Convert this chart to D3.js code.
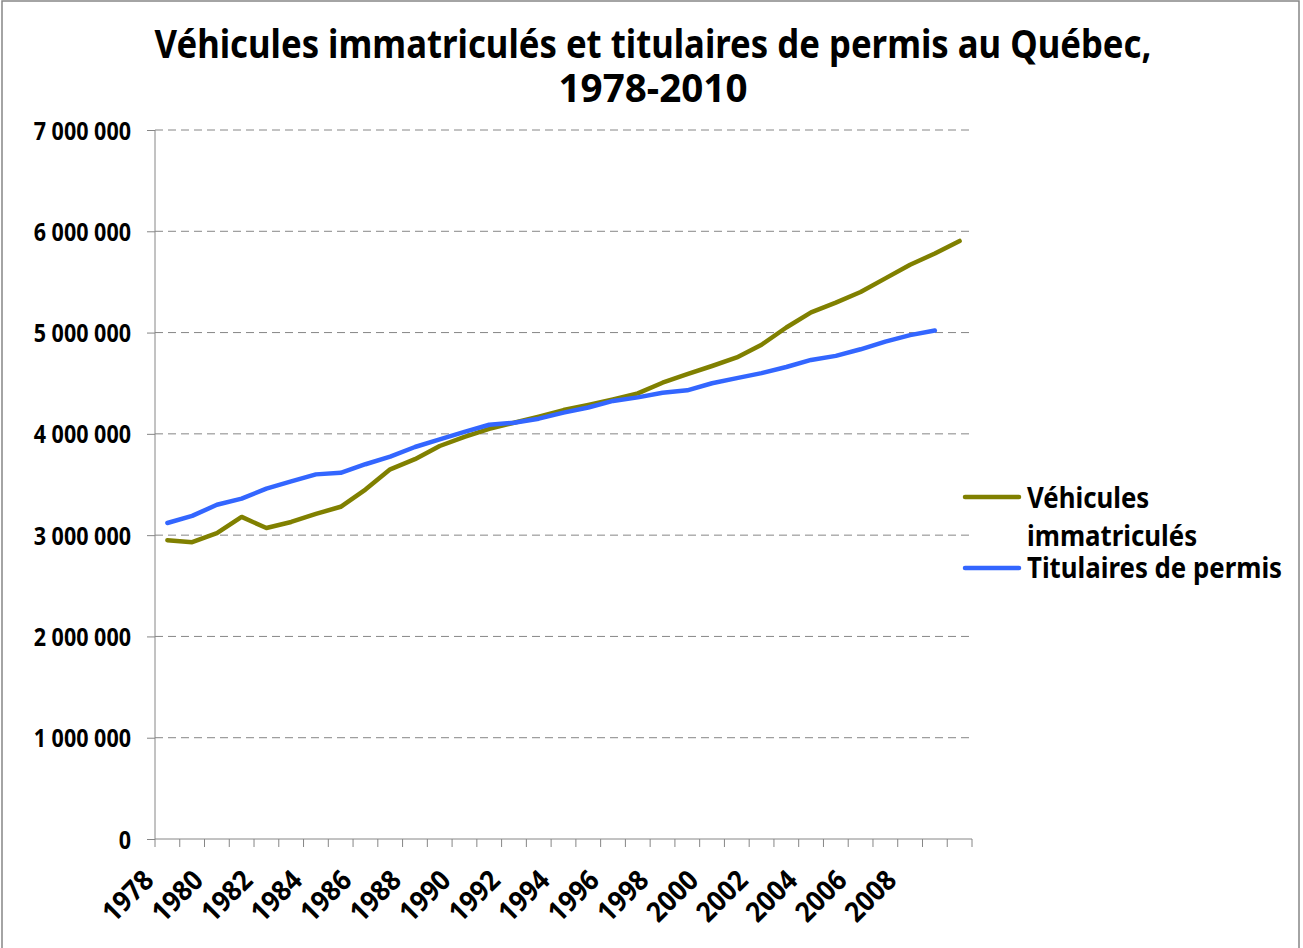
<!DOCTYPE html>
<html>
<head>
<meta charset="utf-8">
<script src="https://cdn.jsdelivr.net/npm/d3@7"></script>
<style>
  body { margin: 0; background: #fff; }
  text { font-family: "Noto Sans", sans-serif; font-weight: bold; fill: #000; }
</style>
</head>
<body>
<div id="vis"></div>
<script>
// data
const years = [1978, 1979, 1980, 1981, 1982, 1983, 1984, 1985, 1986, 1987, 1988,
    1989, 1990, 1991, 1992, 1993, 1994, 1995, 1996, 1997, 1998, 1999, 2000,
    2001, 2002, 2003, 2004, 2005, 2006, 2007, 2008, 2009, 2010];

const vehicules = [2950000, 2930000, 3020000, 3180000, 3070000, 3130000, 3210000,
    3280000, 3450000, 3650000, 3750000, 3880000, 3970000, 4050000, 4110000,
    4170000, 4235000, 4285000, 4340000, 4400000, 4505000, 4590000, 4670000,
    4755000, 4880000, 5050000, 5200000, 5295000, 5400000, 5535000, 5670000,
    5780000, 5905000];

const titulaires = [3120000, 3190000, 3300000, 3360000, 3460000, 3530000, 3600000,
    3615000, 3700000, 3775000, 3870000, 3945000, 4020000, 4090000, 4110000,
    4150000, 4210000, 4260000, 4325000, 4360000, 4405000, 4430000, 4500000,
    4550000, 4600000, 4660000, 4730000, 4770000, 4835000, 4910000, 4975000,
    5020000];

const yTicks = [0, 1000000, 2000000, 3000000, 4000000, 5000000, 6000000, 7000000];
const xLabels = [1978, 1980, 1982, 1984, 1986, 1988, 1990, 1992, 1994, 1996,
    1998, 2000, 2002, 2004, 2006, 2008];

const titleLines = ['Véhicules immatriculés et titulaires de permis au Québec,', '1978-2010'];
const seriesNames = [['Véhicules', 'immatriculés'], ['Titulaires de permis']];

// layout
const W = 1303, H = 948;
const plot = { left: 155, right: 972, top: 130, bottom: 839 };
const axisColor = '#868686';
const colors = ['#808000', '#3366ff'];

const svg = d3.select('#vis')
    .append('svg')
    .attr('width', W)
    .attr('height', H);

// chart border
svg.append('rect')
    .attr('x', 2).attr('y', 1)
    .attr('width', 1297).attr('height', H + 10)
    .attr('fill', 'none')
    .attr('stroke', axisColor)
    .attr('stroke-width', 1.5);

// squeeze text a little, the original font is narrower
function squeeze(sel, k) {
    sel.each(function (d, i) {
        const f = Array.isArray(k) ? k[i] : k;
        const len = this.getComputedTextLength();
        d3.select(this)
            .attr('textLength', len * f)
            .attr('lengthAdjust', 'spacingAndGlyphs');
    });
}

// scales
const xScale = d3.scaleBand()
    .domain(years)
    .range([plot.left, plot.right])
    .padding(0);

const yScale = d3.scaleLinear()
    .domain([0, 7000000])
    .range([plot.bottom, plot.top]);

const cx = d => xScale(d) + xScale.bandwidth() / 2;

const fmt = d3.formatLocale({ decimal: ',', thousands: ' ', grouping: [3], currency: ['', ''] }).format(',');

// gridlines
svg.append('g')
    .selectAll('line')
    .data(yTicks.filter(d => d > 0))
    .join('line')
    .attr('x1', plot.left)
    .attr('x2', plot.right)
    .attr('y1', d => yScale(d))
    .attr('y2', d => yScale(d))
    .attr('stroke', axisColor)
    .attr('stroke-width', 1)
    .attr('stroke-dasharray', '8,5');

// y axis
const yAxis = d3.axisLeft(yScale)
    .tickValues(yTicks)
    .tickSize(8)
    .tickPadding(16)
    .tickFormat(fmt);

const gy = svg.append('g')
    .attr('transform', `translate(${plot.left},0)`)
    .call(yAxis);
gy.select('.domain').attr('stroke', axisColor).attr('d', `M0,${plot.top}V${plot.bottom}`);
gy.selectAll('.tick line').attr('stroke', axisColor);
gy.selectAll('.tick text')
    .style('font-size', '25px')
    .attr('dy', '0.36em')
    .call(squeeze, 0.86);

// x axis: ticks on category boundaries
const gx = svg.append('g');
gx.append('line')
    .attr('x1', plot.left).attr('x2', plot.right)
    .attr('y1', plot.bottom).attr('y2', plot.bottom)
    .attr('stroke', axisColor);
gx.selectAll('.xtick')
    .data(years.concat(['end']))
    .join('line')
    .attr('class', 'xtick')
    .attr('x1', d => d === 'end' ? plot.right : xScale(d))
    .attr('x2', d => d === 'end' ? plot.right : xScale(d))
    .attr('y1', plot.bottom)
    .attr('y2', plot.bottom + 8)
    .attr('stroke', axisColor);
gx.selectAll('.xlabel')
    .data(xLabels)
    .join('text')
    .attr('class', 'xlabel')
    .attr('transform', d => `translate(${cx(d) - 12},${plot.bottom + 43}) rotate(-45)`)
    .attr('text-anchor', 'end')
    .style('font-size', '28px')
    .text(d => d)
    .call(squeeze, 0.92);

// lines
const line = d3.line()
    .x((d, i) => cx(years[i]))
    .y(d => yScale(d));

svg.selectAll('.series')
    .data([vehicules, titulaires])
    .join('path')
    .attr('class', 'series')
    .attr('d', d => line(d))
    .attr('fill', 'none')
    .attr('stroke', (d, i) => colors[i])
    .attr('stroke-width', 4.5)
    .attr('stroke-linejoin', 'round')
    .attr('stroke-linecap', 'round');

// title
svg.append('g')
    .selectAll('text')
    .data(titleLines)
    .join('text')
    .attr('x', 653)
    .attr('y', (d, i) => 58 + i * 44)
    .attr('text-anchor', 'middle')
    .style('font-size', '39px')
    .text(d => d)
    .call(squeeze, [0.89, 0.99]);

// legend
const legendY = [497, 568];
const legend = svg.append('g');
legend.selectAll('line')
    .data(colors)
    .join('line')
    .attr('x1', 965).attr('x2', 1019)
    .attr('y1', (d, i) => legendY[i])
    .attr('y2', (d, i) => legendY[i])
    .attr('stroke', d => d)
    .attr('stroke-width', 4.5)
    .attr('stroke-linecap', 'round');

const legendRows = [
    { t: seriesNames[0][0], y: 508 },
    { t: seriesNames[0][1], y: 546 },
    { t: seriesNames[1][0], y: 578 }
];
legend.selectAll('text')
    .data(legendRows)
    .join('text')
    .attr('x', 1027)
    .attr('y', d => d.y)
    .style('font-size', '29px')
    .text(d => d.t)
    .call(squeeze, 0.89);
</script>
</body>
</html>
